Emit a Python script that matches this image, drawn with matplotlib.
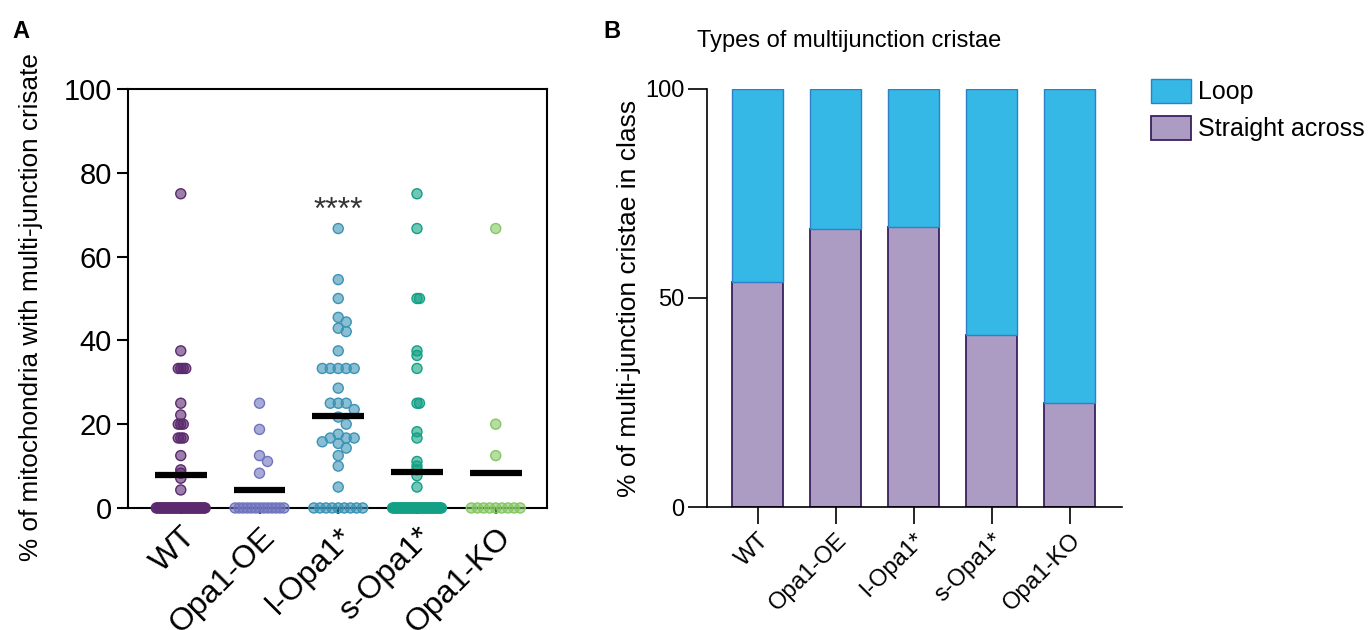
import numpy as np
import matplotlib
matplotlib.use("Agg")
from matplotlib import pyplot as plt
from matplotlib.patches import Patch

plt.rcParams['font.family'] = ['Liberation Sans', 'DejaVu Sans']

groups = ['WT', 'Opa1-OE', 'l-Opa1*', 's-Opa1*', 'Opa1-KO']
colors_a = ['#5b2a6e', '#6f74bd', '#3b93b6', '#13a085', '#86c765']

wt_vals = [75, 37.5, 33.3, 33.3, 33.3, 33.3, 25, 22.2, 20, 20, 20,
           16.7, 16.7, 16.7, 12.5, 9.1, 8.3, 7.1, 4.3] + [0] * 38
oe_vals = [25, 18.75, 12.5, 11.1, 8.3] + [0] * 13
lopa_vals = [66.7, 54.5, 50, 45.5, 44.4, 42.9, 42.1, 37.5,
             33.3, 33.3, 33.3, 33.3, 33.3, 28.6, 25, 25, 25, 23.5, 21.7, 20,
             17.6, 16.7, 16.7, 16.7, 15.8, 15.4, 14.3, 12.5, 10, 5] + [0] * 9
sopa_vals = [75, 66.7, 50, 50, 37.5, 36.4, 33.3, 25, 25, 18.2, 16.7,
             11.1, 10, 9.1, 7.7, 5] + [0] * 39
ko_vals = [66.7, 20, 12.5] + [0] * 9
data_a = [wt_vals, oe_vals, lopa_vals, sopa_vals, ko_vals]
gaps = [2.5, 8, 8, 2.5, 8]   # point spacing in px (tight for WT / s-Opa1 like the original)

straight = [53.8, 66.6, 67.0, 41.1, 24.9]
loop = [100 - s for s in straight]

fig = plt.figure(figsize=(13.69, 6.3), dpi=100)


def swarm(vals, gap, xpx=79.0, ypx=4.19):
    # simple beeswarm: non-zero values nudged sideways, zeros spread in a row
    vals = np.asarray(vals, dtype=float)
    xs = np.zeros(len(vals))
    placed = []
    order = np.argsort(-vals)
    for k in order:
        v = vals[k]
        if v == 0:
            continue
        for j in range(40):
            off = ((j + 1) // 2) * (1 if j % 2 else -1) * gap / xpx
            ok = all(np.hypot((off - px) * xpx, (v - py) * ypx) >= gap for px, py in placed)
            if ok:
                break
        xs[k] = off
        placed.append((off, v))
    zi = np.where(vals == 0)[0]
    n = len(zi)
    if n:
        step = min(8.5 / xpx, 0.62 / max(n - 1, 1))
        xs[zi] = (np.arange(n) - (n - 1) / 2) * step
    return xs


# ---- panel A: scatter with mean
ax = fig.add_axes([0.0935, 0.1937, 0.306, 0.665])
for i, vals in enumerate(data_a):
    xs = i + swarm(vals, gaps[i])
    ax.scatter(xs, vals, s=52, facecolor=colors_a[i], alpha=0.6,
               edgecolor='none', zorder=3, clip_on=False)
    ax.scatter(xs, vals, s=52, facecolor='none', edgecolor=colors_a[i],
               linewidth=1.0, zorder=3, clip_on=False)
    ax.hlines(np.mean(vals), i - 0.33, i + 0.33, color='black', linewidth=4.5, zorder=4)

ax.text(2, 71, '****', ha='center', va='center', fontsize=23, color='#333333')
ax.set_xlim(-0.67, 4.65)
ax.set_ylim(0, 100)
ax.set_yticks([0, 20, 40, 60, 80, 100])
ax.set_xticks(range(5))
ax.set_xticklabels(groups, rotation=45, ha='right', rotation_mode='anchor', fontsize=23)
ax.tick_params(axis='y', labelsize=21, length=8, width=1.5)
ax.tick_params(axis='x', length=4, width=1.5, pad=6)
for sp in ax.spines.values():
    sp.set_linewidth(1.5)
ax.set_ylabel('% of mitochondria with multi-junction crisate', fontsize=18.8)
ax.yaxis.set_label_coords(-0.203, 0.48)

# ---- panel B: stacked bars
bx = fig.add_axes([0.5164, 0.195, 0.303, 0.664])
x = np.arange(len(groups))
bx.bar(x, straight, width=0.655, color='#ac9bc3', edgecolor='#3b1f5e', linewidth=1.3)
bx.bar(x, loop, bottom=straight, width=0.655, color='#36b8e6', edgecolor='#2f7fc8', linewidth=1.0)
bx.set_xlim(-0.65, 4.67)
bx.set_ylim(0, 100)
bx.set_yticks([0, 50, 100])
bx.set_xticks(x)
bx.set_xticklabels(groups, rotation=45, ha='right', rotation_mode='anchor', fontsize=17)
bx.tick_params(axis='y', labelsize=17, length=14, width=1.2, pad=2)
bx.tick_params(axis='x', length=12, width=1.2, pad=4)
bx.spines['top'].set_visible(False)
bx.spines['right'].set_visible(False)
bx.spines['left'].set_linewidth(1.2)
bx.spines['bottom'].set_linewidth(1.2)
bx.set_ylabel('% of multi-junction cristae in class', fontsize=19)
bx.yaxis.set_label_coords(-0.16, 0.5)

handles = [Patch(facecolor='#36b8e6', edgecolor='#2f7fc8', label='Loop'),
           Patch(facecolor='#ac9bc3', edgecolor='#3b1f5e', linewidth=1.3, label='Straight across')]
fig.legend(handles=handles, loc='upper right', bbox_to_anchor=(0.997, 0.875), frameon=False,
           fontsize=18, handlelength=1.6, handleheight=1.1,
           handletextpad=0.3, labelspacing=0.45, borderpad=0, borderaxespad=0)

fig.text(0.509, 0.935, 'Types of multijunction cristae', fontsize=17, va='center', ha='left')
fig.text(0.009, 0.95, 'A', fontsize=17, fontweight='bold', va='center')
fig.text(0.441, 0.95, 'B', fontsize=17, fontweight='bold', va='center')

fig.savefig('out.png', dpi=100)
